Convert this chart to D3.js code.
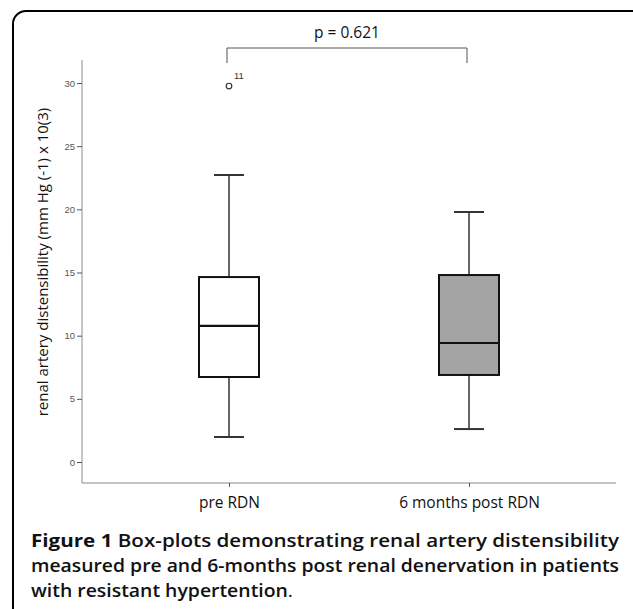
<!DOCTYPE html>
<html>
<head>
<meta charset="utf-8">
<script src="https://cdn.jsdelivr.net/npm/d3@7"></script>
<style>
  body { margin: 0; background: #fff; }
  svg { display: block; }
</style>
</head>
<body>
<svg id="chart"></svg>
<script>
// values
const groups = ["pre RDN", "6 months post RDN"];
const whiskerLow = [1.98, 2.61];
const q1 = [6.73, 6.89];
const medians = [10.77, 9.42];
const q3 = [14.64, 14.8];
const whiskerHigh = [22.72, 19.79];
const outliers = [{ group: "pre RDN", value: 29.76, label: "11" }];
const yTicks = [0, 5, 10, 15, 20, 25, 30];
const boxFills = ["#ffffff", "#a4a4a4"];

const width = 633;
const height = 609;

const svg = d3.select("#chart")
    .attr("width", width)
    .attr("height", height);

// rounded frame around the figure
svg.append("rect")
    .attr("x", 13).attr("y", 11)
    .attr("width", 640).attr("height", 640)
    .attr("rx", 13)
    .attr("fill", "none")
    .attr("stroke", "#000")
    .attr("stroke-width", 2);

const x = d3.scalePoint()
    .domain(groups)
    .range([82, 616])
    .padding(0.6125);

const y = d3.scaleLinear()
    .domain([-1.66, 31.82])
    .range([483, 60]);

// y axis
const yAxis = svg.append("g")
    .attr("transform", "translate(82,0)")
    .call(d3.axisLeft(y).tickValues(yTicks).tickSize(5).tickPadding(2));
yAxis.select(".domain").attr("stroke", "#8a8a8a").attr("d", "M0," + y.range()[1] + "V" + y.range()[0]);
yAxis.selectAll(".tick line").attr("stroke", "#555");
yAxis.selectAll(".tick text")
    .attr("fill", "#555")
    .style("font-family", "Liberation Sans Narrow, Arial Narrow, Liberation Sans, sans-serif")
    .style("font-size", "9.5px");

// x axis
const xAxis = svg.append("g")
    .attr("transform", "translate(0,483)")
    .call(d3.axisBottom(x).tickSize(4).tickPadding(10));
xAxis.select(".domain").attr("stroke", "#8a8a8a").attr("d", "M82,0H616");
xAxis.selectAll(".tick line").attr("stroke", "#555");
xAxis.selectAll(".tick text")
    .attr("fill", "#111")
    .style("font-family", "Open Sans, sans-serif")
    .style("font-size", "15.5px");

// y axis title
svg.append("text")
    .attr("transform", "translate(48,262) rotate(-90)")
    .attr("text-anchor", "middle")
    .style("font-family", "Open Sans, sans-serif")
    .style("font-size", "15px")
    .attr("fill", "#111")
    .text("renal artery distensibility (mm Hg (-1) x 10(3)");

const boxW = 60;
const capW = 30;

const boxes = svg.append("g")
    .selectAll("g")
    .data(groups)
    .join("g");

// whiskers
boxes.append("line")
    .attr("x1", d => x(d)).attr("x2", d => x(d))
    .attr("y1", (d, i) => y(whiskerHigh[i]))
    .attr("y2", (d, i) => y(q3[i]))
    .attr("stroke", "#333").attr("stroke-width", 1.5);
boxes.append("line")
    .attr("x1", d => x(d)).attr("x2", d => x(d))
    .attr("y1", (d, i) => y(q1[i]))
    .attr("y2", (d, i) => y(whiskerLow[i]))
    .attr("stroke", "#333").attr("stroke-width", 1.5);
boxes.append("line")
    .attr("x1", d => x(d) - capW / 2).attr("x2", d => x(d) + capW / 2)
    .attr("y1", (d, i) => y(whiskerHigh[i])).attr("y2", (d, i) => y(whiskerHigh[i]))
    .attr("stroke", "#333").attr("stroke-width", 2);
boxes.append("line")
    .attr("x1", d => x(d) - capW / 2).attr("x2", d => x(d) + capW / 2)
    .attr("y1", (d, i) => y(whiskerLow[i])).attr("y2", (d, i) => y(whiskerLow[i]))
    .attr("stroke", "#333").attr("stroke-width", 2);

// box
boxes.append("rect")
    .attr("x", d => x(d) - boxW / 2)
    .attr("width", boxW)
    .attr("y", (d, i) => y(q3[i]))
    .attr("height", (d, i) => y(q1[i]) - y(q3[i]))
    .attr("fill", (d, i) => boxFills[i])
    .attr("stroke", "#111")
    .attr("stroke-width", 2);

// median
boxes.append("line")
    .attr("x1", d => x(d) - boxW / 2).attr("x2", d => x(d) + boxW / 2)
    .attr("y1", (d, i) => y(medians[i])).attr("y2", (d, i) => y(medians[i]))
    .attr("stroke", "#111").attr("stroke-width", 2.2);

// outliers
const out = svg.append("g").selectAll("g").data(outliers).join("g");
out.append("circle")
    .attr("cx", d => x(d.group))
    .attr("cy", d => y(d.value))
    .attr("r", 2.8)
    .attr("fill", "none")
    .attr("stroke", "#333")
    .attr("stroke-width", 1.2);
out.append("text")
    .attr("x", d => x(d.group) + 5)
    .attr("y", d => y(d.value) - 7)
    .style("font-family", "Liberation Sans, Arial, sans-serif")
    .style("font-size", "9.5px")
    .attr("fill", "#333")
    .text(d => d.label);

// significance bracket
const bx1 = x(groups[0]) - 2;
const bx2 = x(groups[1]) - 2;
svg.append("path")
    .attr("d", `M${bx1},63V48H${bx2}V63`)
    .attr("fill", "none")
    .attr("stroke", "#555")
    .attr("stroke-width", 1);
svg.append("text")
    .attr("x", (bx1 + bx2) / 2)
    .attr("y", 38)
    .attr("text-anchor", "middle")
    .style("font-family", "Open Sans, sans-serif")
    .style("font-size", "15.5px")
    .attr("fill", "#111")
    .text("p = 0.621");

// caption
const caption = svg.append("g")
    .style("font-family", "Open Sans, sans-serif")
    .style("font-size", "17.5px")
    .attr("fill", "#111");

const line1 = caption.append("text")
    .attr("x", 31).attr("y", 547)
    .attr("textLength", 588).attr("lengthAdjust", "spacingAndGlyphs");
line1.append("tspan").attr("font-weight", 700).text("Figure 1 ");
line1.append("tspan").attr("font-weight", 600).text("Box-plots demonstrating renal artery distensibility");

caption.append("text")
    .attr("x", 31).attr("y", 572)
    .attr("textLength", 588).attr("lengthAdjust", "spacingAndGlyphs")
    .attr("font-weight", 600)
    .text("measured pre and 6-months post renal denervation in patients");

const line3 = caption.append("text")
    .attr("x", 31).attr("y", 597)
    .attr("textLength", 262).attr("lengthAdjust", "spacingAndGlyphs");
line3.append("tspan").attr("font-weight", 600).text("with resistant hypertention");
line3.append("tspan").attr("font-weight", 400).text(".");
</script>
</body>
</html>
